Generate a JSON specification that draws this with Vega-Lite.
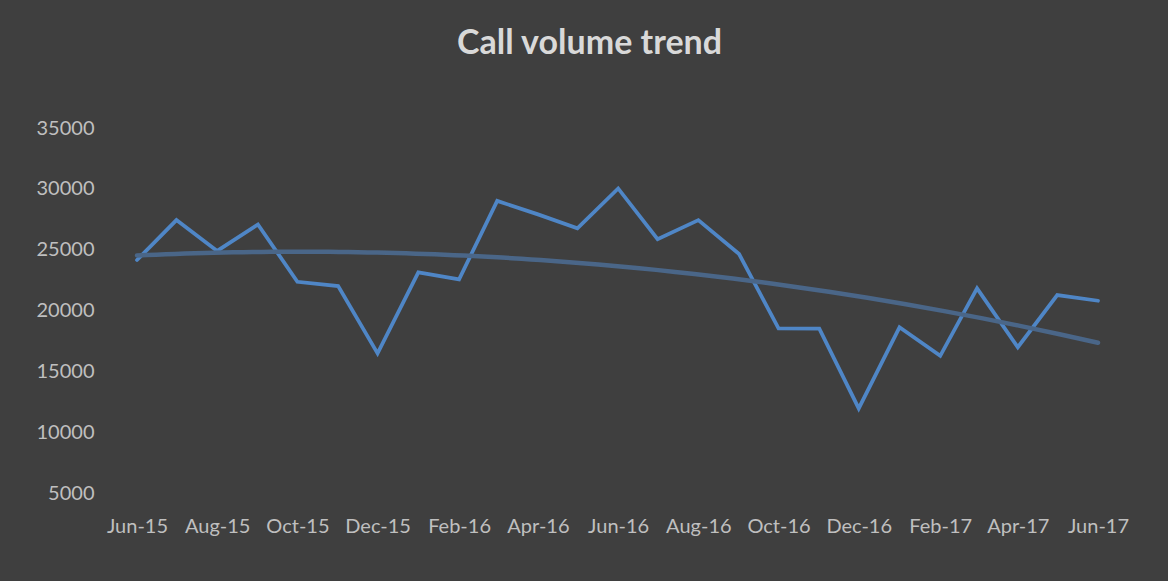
{
  "$schema": "https://vega.github.io/schema/vega-lite/v6.json",
  "width": 961,
  "height": 365,
  "autosize": {"type": "none"},
  "padding": {"left": 137, "top": 128, "right": 70, "bottom": 88},
  "background": "#3f3f3f",
  "config": {"view": {"stroke": null}, "font": "Lato"},
  "title": {
    "text": "Call volume trend",
    "font": "Lato",
    "fontSize": 34,
    "fontWeight": "bold",
    "color": "#d9d9d9",
    "anchor": "middle",
    "baseline": "alphabetic",
    "dx": -28,
    "offset": 30
  },
  "data": {
    "values": [
      {"date": "2015-06-01T00:00:00", "calls": 24150},
      {"date": "2015-07-01T00:00:00", "calls": 27430},
      {"date": "2015-08-01T00:00:00", "calls": 24900},
      {"date": "2015-09-01T00:00:00", "calls": 27070},
      {"date": "2015-10-01T00:00:00", "calls": 22360},
      {"date": "2015-11-01T00:00:00", "calls": 22010},
      {"date": "2015-12-01T00:00:00", "calls": 16480},
      {"date": "2016-01-01T00:00:00", "calls": 23140},
      {"date": "2016-02-01T00:00:00", "calls": 22560},
      {"date": "2016-03-01T00:00:00", "calls": 29010},
      {"date": "2016-04-01T00:00:00", "calls": 27900},
      {"date": "2016-05-01T00:00:00", "calls": 26750},
      {"date": "2016-06-01T00:00:00", "calls": 30030},
      {"date": "2016-07-01T00:00:00", "calls": 25870},
      {"date": "2016-08-01T00:00:00", "calls": 27430},
      {"date": "2016-09-01T00:00:00", "calls": 24640},
      {"date": "2016-10-01T00:00:00", "calls": 18540},
      {"date": "2016-11-01T00:00:00", "calls": 18510},
      {"date": "2016-12-01T00:00:00", "calls": 11950},
      {"date": "2017-01-01T00:00:00", "calls": 18620},
      {"date": "2017-02-01T00:00:00", "calls": 16270},
      {"date": "2017-03-01T00:00:00", "calls": 21820},
      {"date": "2017-04-01T00:00:00", "calls": 16980},
      {"date": "2017-05-01T00:00:00", "calls": 21270},
      {"date": "2017-06-01T00:00:00", "calls": 20800}
    ]
  },
  "encoding": {
    "x": {
      "field": "date",
      "type": "temporal",
      "scale": {
        "domain": [
          {"year": 2015, "month": 6, "date": 1},
          {"year": 2017, "month": 6, "date": 1}
        ]
      },
      "axis": {
        "title": null,
        "format": "%b-%y",
        "values": [
          {"year": 2015, "month": 6, "date": 1},
          {"year": 2015, "month": 8, "date": 1},
          {"year": 2015, "month": 10, "date": 1},
          {"year": 2015, "month": 12, "date": 1},
          {"year": 2016, "month": 2, "date": 1},
          {"year": 2016, "month": 4, "date": 1},
          {"year": 2016, "month": 6, "date": 1},
          {"year": 2016, "month": 8, "date": 1},
          {"year": 2016, "month": 10, "date": 1},
          {"year": 2016, "month": 12, "date": 1},
          {"year": 2017, "month": 2, "date": 1},
          {"year": 2017, "month": 4, "date": 1},
          {"year": 2017, "month": 6, "date": 1}
        ],
        "domain": false,
        "ticks": false,
        "grid": false,
        "labelFont": "Lato",
        "labelFontSize": 20,
        "labelColor": "#bfbfbf",
        "labelPadding": 23,
        "labelOverlap": false,
        "labelFlush": false
      }
    },
    "y": {
      "field": "calls",
      "type": "quantitative",
      "scale": {"domain": [5000, 35000], "nice": false, "zero": false},
      "axis": {
        "title": null,
        "values": [5000, 10000, 15000, 20000, 25000, 30000, 35000],
        "format": "d",
        "domain": false,
        "ticks": false,
        "grid": false,
        "labelFont": "Lato",
        "labelFontSize": 20,
        "labelColor": "#bfbfbf",
        "labelPadding": 43
      }
    }
  },
  "layer": [
    {
      "mark": {"type": "line", "color": "#4f86c6", "strokeWidth": 3.75, "strokeCap": "round"}
    },
    {
      "transform": [
        {"regression": "calls", "on": "date", "method": "poly", "order": 2}
      ],
      "mark": {"type": "line", "color": "#4a6688", "strokeWidth": 4.5, "strokeCap": "round"}
    }
  ]
}
